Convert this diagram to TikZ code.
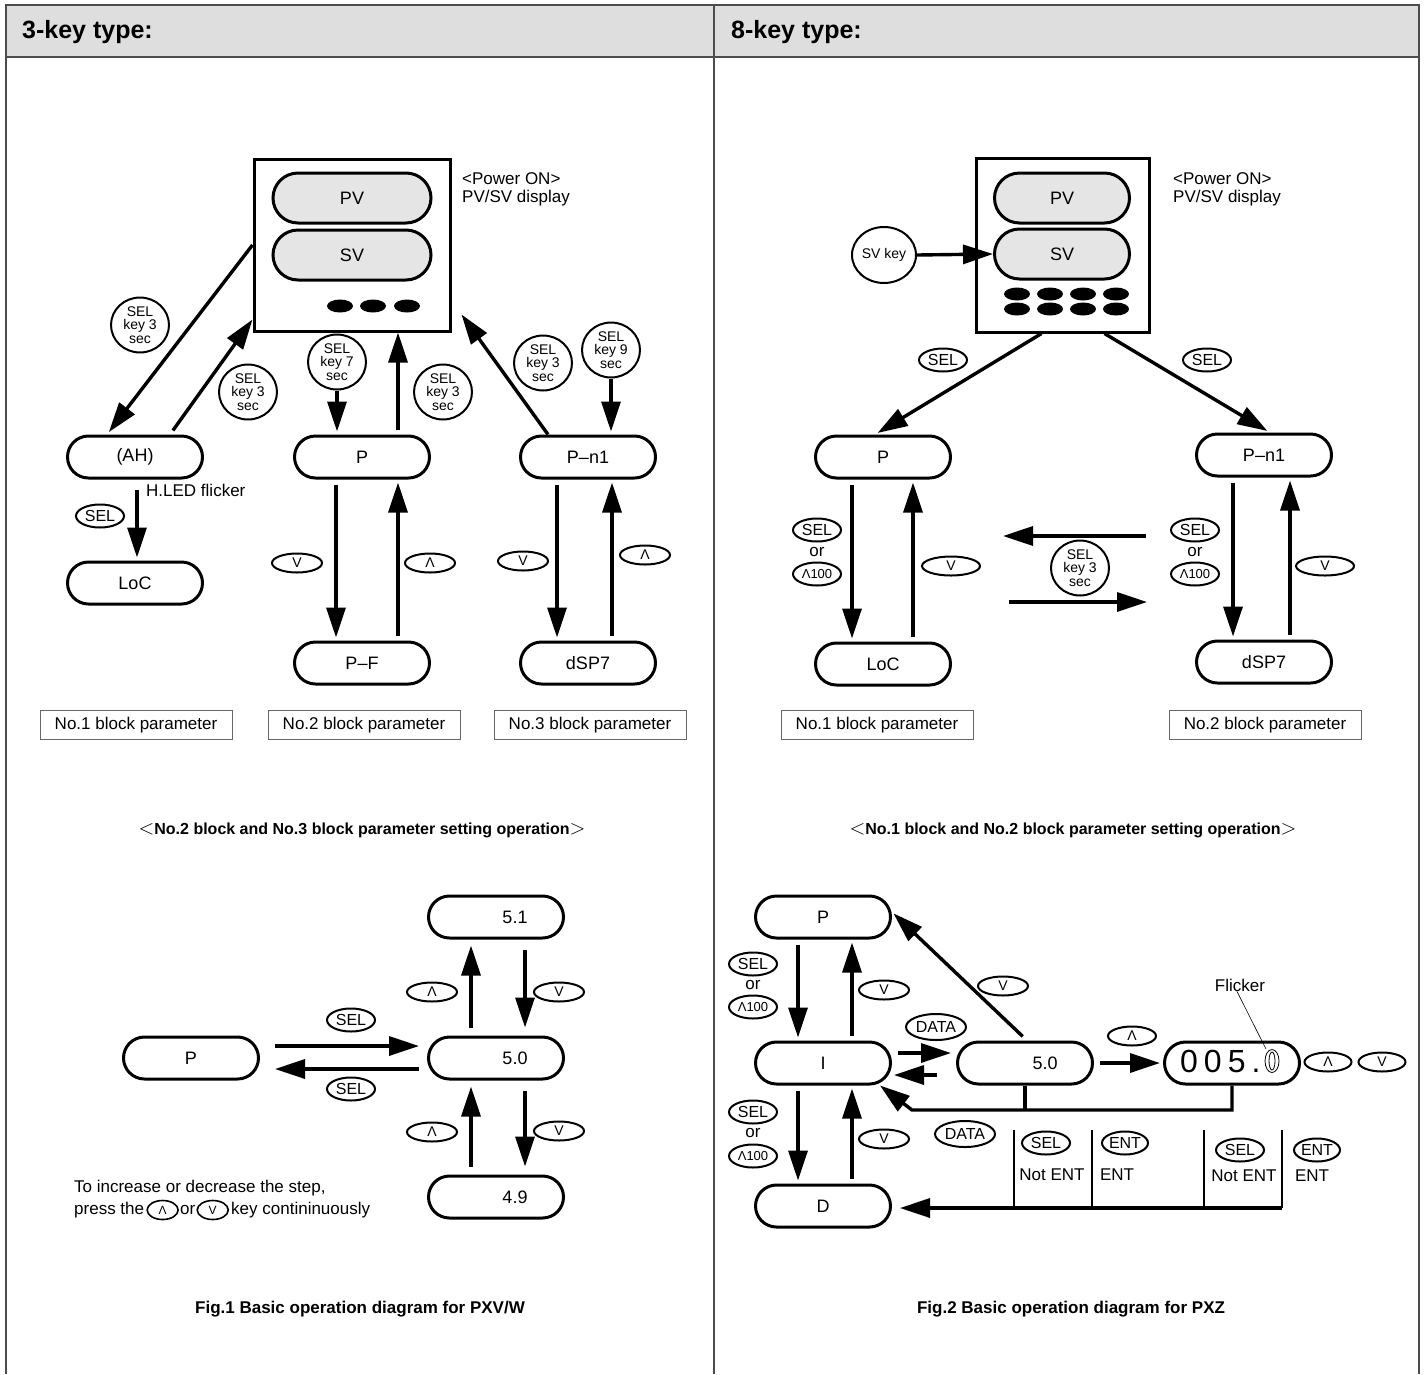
\documentclass[tikz,border=0pt]{standalone}
\usepackage{fontspec}
\setmainfont{Liberation Sans}
\usetikzlibrary{arrows.meta}
\usetikzlibrary{shapes.misc, shapes.geometric}
\usetikzlibrary{positioning}
\usetikzlibrary{calc}

\newcommand{\fsz}[2]{\fontsize{#1}{#2}\selectfont}
\newcommand{\lbr}{{\fsz{21}{18}$<$}}
\newcommand{\rbr}{{\fsz{21}{18}$>$}}

\begin{document}
\begin{tikzpicture}[x=1pt, y=-1pt, every node/.style={inner sep=0pt},
    frameline/.style={draw=black!70, line width=1.2pt},
    pill/.style={rounded rectangle, draw, line width=3pt, minimum width=135pt, minimum height=42pt, font=\fsz{18}{20}},
    dpill/.style={pill, fill=black!10, minimum width=158pt, minimum height=50pt},
    keycirc/.style={ellipse, draw, line width=2pt, minimum width=58pt, minimum height=55pt, align=center, font=\fsz{14}{13.5}},
    keybtn/.style={ellipse, draw, line width=2pt, minimum width=48pt, minimum height=23pt, font=\fsz{16}{16}},
    arrowkey/.style={keybtn, minimum width=50pt, minimum height=19pt, font=\fsz{14}{14}},
    arr/.style={-{Triangle[length=30pt,width=19pt]}, line width=3.4pt, shorten <=5pt, shorten >=3pt},
    plain/.style={font=\fsz{17}{18}},
    ortext/.style={font=\fsz{17}{17}, text height=9pt, text depth=0pt},
    blockbox/.style={draw=black!60, line width=1pt, minimum width=192pt, minimum height=29pt, font=\fsz{17}{18}},
    caption/.style={font=\bfseries\fsz{16}{18}}]

        % Frame and header band
        \useasboundingbox (0,0) rectangle (1424,1374);
        \fill[black!13] (6,5) rectangle (1419,57);
        \draw[frameline] (6,1374) -- (6,5) -- (1419,5) -- (1419,1374);
        \draw[frameline] (6,57) -- (1419,57);
        \draw[frameline] (714,5) -- (714,1374);
        \node[anchor=west, font=\bfseries\fsz{25}{28}] (head3) at (22,32) {3-key type:};
        \node[anchor=west, font=\bfseries\fsz{25}{28}] (head8) at (731,32) {8-key type:};

        % ---------------- 3-key type, block parameters ----------------
        % Draw the front panel
        \node[draw, line width=3pt, minimum width=196pt, minimum height=172pt] (dispL) at (352,245) {};
        \node[dpill] (pvL) at (352,198) {PV};
        \node[dpill] (svL) at (352,255) {SV};
        \foreach \x in {340,373,407}
        {
          \fill (\x,306) ellipse [x radius=13pt, y radius=6.5pt];
        }
        \node[plain, anchor=west, align=left] (powL) at (462,189) {<Power ON>\\PV/SV display};

        % Draw the parameter displays
        \node[pill] (ahL) at (135,457) {(AH)};
        \node[pill] (pL) at (362,457) {P};
        \node[pill] (pnL) at (588,457) {P–n1};
        \node[pill] (locL) at (135,583) {LoC};
        \node[pill] (pfL) at (362,663) {P–F};
        \node[pill] (dspL) at (588,663) {dSP7};

        % Keys pressed to move between displays
        \node[keycirc] (kA) at (140,325) {SEL\\key 3\\sec};
        \node[keycirc] (kB) at (248,392) {SEL\\key 3\\sec};
        \node[keycirc] (kC) at (337,362) {SEL\\key 7\\sec};
        \node[keycirc] (kD) at (443,392) {SEL\\key 3\\sec};
        \node[keycirc] (kE) at (543,363) {SEL\\key 3\\sec};
        \node[keycirc] (kF) at (611,350) {SEL\\key 9\\sec};

        \draw[arr, shorten <=0pt] (dispL.west) -- ([xshift=-28pt]ahL.north);
        \draw[arr, shorten >=0pt] ([xshift=35pt]ahL.north) -- ([yshift=13pt]dispL.south west);
        \draw[arr, shorten <=0pt] (kC.south) -- (kC.south |- pL.north);
        \draw[arr, shorten >=0pt] ([xshift=36pt]pL.north) -- ([xshift=36pt]pL.north |- dispL.south);
        \draw[arr, shorten <=0pt] (kF.south) -- (kF.south |- pnL.north);
        \draw[arr, shorten <=0pt, shorten >=0pt] ([xshift=-40pt]pnL.north) -- ([shift={(10pt,18pt)}]dispL.south east);

        % No.1 block
        \node[plain, anchor=west] (hled) at (146,490) {H.LED flicker};
        \draw[arr, shorten <=0pt] (137,490) -- (137,490 |- locL.north);
        \node[keybtn] (selA) at (100,516) {SEL};

        % No.2 block
        \draw[arr] ([xshift=-26pt]pL.south) -- ([xshift=-26pt]pfL.north);
        \draw[arr] ([xshift=36pt]pfL.north) -- ([xshift=36pt]pL.south);
        \node[arrowkey] (dnB) at (297,563) {V};
        \node[arrowkey] (upB) at (430,563) {Λ};

        % No.3 block
        \draw[arr] ([xshift=-31pt]pnL.south) -- ([xshift=-31pt]dspL.north);
        \draw[arr] ([xshift=24pt]dspL.north) -- ([xshift=24pt]pnL.south);
        \node[arrowkey] (dnC) at (523,561) {V};
        \node[arrowkey] (upC) at (645,555) {Λ};

        \node[blockbox] (blk1L) at (136,725) {No.1 block parameter};
        \node[blockbox] (blk2L) at (364,725) {No.2 block parameter};
        \node[blockbox] (blk3L) at (590,725) {No.3 block parameter};
        \node[caption] (capL) at (362,830) {\lbr No.2 block and No.3 block parameter setting operation\rbr};

        % ---------------- 8-key type, block parameters ----------------
        \node[draw, line width=3pt, minimum width=173pt, minimum height=174pt] (dispR) at (1062.5,245) {};
        \node[dpill, minimum width=135pt] (pvR) at (1062,198) {PV};
        \node[dpill, minimum width=135pt] (svR) at (1062,254) {SV};
        \foreach \x in {1017,1050,1083,1116}
        {
          \foreach \y in {294,309}
          {
            \fill (\x,\y) ellipse [x radius=13pt, y radius=6.5pt];
          }
        }
        \node[plain, anchor=west, align=left] (powR) at (1173,189) {<Power ON>\\PV/SV display};
        \node[keycirc, minimum width=64pt, minimum height=56pt] (svkey) at (884,255) {SV key};
        \draw[arr, shorten <=0pt, shorten >=0pt] (svkey.east) -- (svR.west);

        \node[pill] (pR) at (883,457) {P};
        \node[pill] (pnR) at (1264,455) {P–n1};
        \node[pill] (locR) at (883,664) {LoC};
        \node[pill] (dspR) at (1264,662) {dSP7};

        \draw[arr, shorten <=0pt] ([xshift=-21pt]dispR.south) -- ([xshift=-8pt]pR.north);
        \draw[arr, shorten <=0pt] ([xshift=42pt]dispR.south) -- ([xshift=6pt]pnR.north);
        \node[keybtn] (selR1) at (943,360) {SEL};
        \node[keybtn] (selR2) at (1207,360) {SEL};

        % No.1 block
        \draw[arr] ([xshift=-31pt]pR.south) -- ([xshift=-31pt]locR.north);
        \draw[arr] ([xshift=30pt]locR.north) -- ([xshift=30pt]pR.south);
        \node[keybtn] (selR3) at (817,530) {SEL};
        \node[ortext] (orR3) at (817,552) {or};
        \node[keybtn, font=\fsz{13}{13}] (hunR3) at (817,574) {Λ100};
        \node[arrowkey, minimum width=58pt] (dnR3) at (951,566) {V};

        % No.2 block
        \draw[arr] ([xshift=-31pt]pnR.south) -- ([xshift=-31pt]dspR.north);
        \draw[arr] ([xshift=26pt]dspR.north) -- ([xshift=26pt]pnR.south);
        \node[keybtn] (selR4) at (1195,530) {SEL};
        \node[ortext] (orR4) at (1195,552) {or};
        \node[keybtn, font=\fsz{13}{13}] (hunR4) at (1195,574) {Λ100};
        \node[arrowkey, minimum width=58pt] (dnR4) at (1325,566) {V};

        % Switching between the blocks
        \coordinate (gapRT) at (1146,536);
        \coordinate (gapLT) at (1003,536);
        \coordinate (gapLB) at (1009,602);
        \coordinate (gapRB) at (1147,602);
        \draw[arr, shorten <=0pt, shorten >=0pt] (gapRT) -- (gapLT);
        \draw[arr, shorten <=0pt, shorten >=0pt] (gapLB) -- (gapRB);
        \node[keycirc] (kG) at (1080,568) {SEL\\key 3\\sec};

        \node[blockbox] (blk1R) at (877,725) {No.1 block parameter};
        \node[blockbox] (blk2R) at (1265,725) {No.2 block parameter};
        \node[caption] (capR) at (1073,830) {\lbr No.1 block and No.2 block parameter setting operation\rbr};

        % ---------------- Fig.1 value change ----------------
        \node[pill] (p3) at (191,1058) {P};
        \node[pill] (v51) at (496,917) {\hspace*{38pt}5.1};
        \node[pill] (v50) at (496,1058) {\hspace*{38pt}5.0};
        \node[pill] (v49) at (496,1197) {\hspace*{38pt}4.9};

        \draw[arr, shorten <=15pt, shorten >=8pt] ([yshift=12pt]p3.east) -- ([yshift=12pt]v50.west);
        \draw[arr, shorten <=8pt, shorten >=15pt] ([yshift=-11pt]v50.west) -- ([yshift=-11pt]p3.east);
        \node[keybtn] (selP1) at (351,1020) {SEL};
        \node[keybtn] (selP2) at (351,1089) {SEL};

        \draw[arr, shorten <=8pt, shorten >=6pt] ([xshift=-25pt]v50.north) -- ([xshift=-25pt]v51.south);
        \draw[arr, shorten <=10pt, shorten >=8pt] ([xshift=29pt]v51.south) -- ([xshift=29pt]v50.north);
        \draw[arr, shorten <=8pt, shorten >=6pt] ([xshift=-25pt]v49.north) -- ([xshift=-25pt]v50.south);
        \draw[arr, shorten <=10pt, shorten >=8pt] ([xshift=29pt]v50.south) -- ([xshift=29pt]v49.north);
        \node[arrowkey] (upP1) at (432,992) {Λ};
        \node[arrowkey] (dnP1) at (559,992) {V};
        \node[arrowkey] (upP2) at (432,1132) {Λ};
        \node[arrowkey] (dnP2) at (559,1131) {V};

        \node[plain, anchor=west] (hint1) at (74,1188) {To increase or decrease the step,};
        \node[plain, anchor=west, text height=12pt, text depth=4pt] (hint2) at (74,1210) {press the};
        \node[ellipse, draw, line width=1.6pt, minimum width=31pt, minimum height=19pt, font=\fsz{12}{12}, right=2pt of hint2] (hintUp) {Λ};
        \node[plain, text height=12pt, text depth=4pt, right=1pt of hintUp] (hintOr) {or};
        \node[ellipse, draw, line width=1.6pt, minimum width=31pt, minimum height=19pt, font=\fsz{12}{12}, right=1pt of hintOr] (hintDn) {V};
        \node[plain, text height=12pt, text depth=4pt, right=2pt of hintDn] (hint3) {key contininuously};

        \node[caption, font=\bfseries\fsz{17}{18}] (fig1) at (360,1309) {Fig.1 Basic operation diagram for PXV/W};

        % ---------------- Fig.2 value change ----------------
        \node[pill] (p4) at (823,917) {P};
        \node[pill] (i4) at (823,1063) {I};
        \node[pill] (d4) at (823,1206) {D};
        \node[pill] (v50b) at (1025,1063) {\hspace*{40pt}5.0};
        \node[pill] (v005) at (1232,1063) {};
        \node[anchor=base west, font=\fsz{32}{32}] (digits) at (1180,1072) {0\hspace{6pt}0\hspace{6pt}5\hspace{6pt}.};
        % flickering digit drawn as an outline
        \draw[line width=0.8pt] (1272,1061) ellipse [x radius=7pt, y radius=11.5pt];
        \draw[line width=0.8pt] (1272,1061) ellipse [x radius=3pt, y radius=9pt];
        \node[plain] (flick) at (1240,985) {Flicker};
        \coordinate (flickTip) at (1266,1049);
        \draw[line width=0.6pt] ([xshift=-3pt]flick.south) -- (flickTip);

        \draw[arr] ([xshift=-25pt]p4.south) -- ([xshift=-25pt]i4.north);
        \draw[arr] ([xshift=29pt]i4.north) -- ([xshift=29pt]p4.south);
        \draw[arr] ([xshift=-25pt]i4.south) -- ([xshift=-25pt]d4.north);
        \draw[arr] ([xshift=29pt]d4.north) -- ([xshift=29pt]i4.south);
        \node[keybtn] (selQ1) at (753,964) {SEL};
        \node[ortext] (orQ1) at (753,985) {or};
        \node[keybtn, font=\fsz{13}{13}] (hunQ1) at (753,1007) {Λ100};
        \node[keybtn] (selQ2) at (753,1112) {SEL};
        \node[ortext] (orQ2) at (753,1133) {or};
        \node[keybtn, font=\fsz{13}{13}] (hunQ2) at (753,1156) {Λ100};
        \node[arrowkey] (dnQ1) at (884,990) {V};
        \node[arrowkey] (dnQ2) at (884,1139) {V};

        \draw[arr, shorten <=6pt, shorten >=2pt] ([xshift=2pt]v50b.north) -- ([yshift=5pt]p4.east);
        \node[arrowkey] (dnQ3) at (1003,986) {V};
        \node[keybtn, minimum width=60pt, minimum height=26pt, font=\fsz{16}{16}] (dataQ1) at (936,1027) {DATA};
        \draw[arr, shorten <=6pt, shorten >=5pt] ([yshift=10pt]i4.east) -- ([yshift=10pt]v50b.west);
        \draw[arr, shorten <=19pt, shorten >=2pt] ([yshift=-12pt]v50b.west) -- ([yshift=-12pt]i4.east);
        \draw[arr, shorten <=6pt, shorten >=3pt] (v50b.east) -- (v005.west);
        \node[arrowkey, minimum width=48pt] (upQ3) at (1132,1036) {Λ};
        \node[arrowkey, minimum width=47pt] (upQ4) at (1328,1062) {Λ};
        \node[arrowkey, minimum width=47pt] (dnQ4) at (1382,1062) {V};

        % Return paths to I and D
        \coordinate (brk) at (912,1110);
        \draw[line width=3.4pt] (v50b.south) -- (v50b.south |- brk);
        \draw[arr, shorten <=0pt, shorten >=0pt] (v005.south) -- (v005.south |- brk) -- (brk) -- ([xshift=57pt]i4.south);
        \node[keybtn, minimum width=60pt, minimum height=26pt, font=\fsz{16}{16}] (dataQ2) at (965,1134) {DATA};
        \foreach \x in {1014,1092,1204,1282}
        {
          \draw[line width=2.6pt] (\x,1130) -- (\x,1208);
        }
        \coordinate (entEnd) at (1282,1208);
        \draw[arr, shorten <=0pt, shorten >=8pt] (entEnd) -- (entEnd -| d4.east);
        \node[keybtn] (selQ3) at (1046,1143) {SEL};
        \node[keybtn, minimum width=46pt] (entQ3) at (1125,1143) {ENT};
        \node[plain] (notQ3) at (1052,1175) {Not ENT};
        \node[plain] (yesQ3) at (1117,1175) {ENT};
        \node[keybtn] (selQ4) at (1240,1150) {SEL};
        \node[keybtn, minimum width=46pt] (entQ4) at (1317,1150) {ENT};
        \node[plain] (notQ4) at (1244,1176) {Not ENT};
        \node[plain] (yesQ4) at (1312,1176) {ENT};

        \node[caption, font=\bfseries\fsz{17}{18}] (fig2) at (1071,1309) {Fig.2 Basic operation diagram for PXZ};
\end{tikzpicture}
\end{document}
